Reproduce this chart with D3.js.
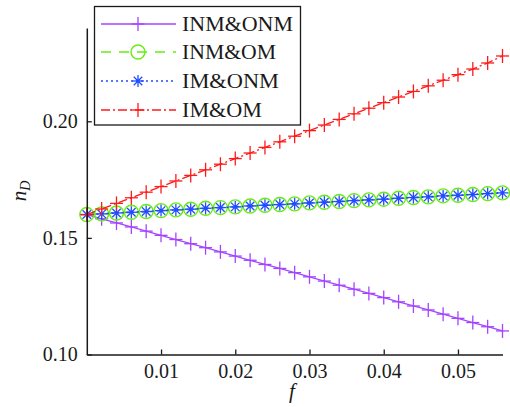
<!DOCTYPE html>
<html><head><meta charset="utf-8">
<script src="https://cdn.jsdelivr.net/npm/d3@7"></script>
<style>body{margin:0;background:#fff}</style>
</head><body>
<svg id="c" width="510" height="407"></svg>
<script>
const fValues = [0,0.002,0.004,0.006,0.008,0.010,0.012,0.014,0.016,0.018,0.020,0.022,0.024,0.026,0.028,0.030,0.032,0.034,0.036,0.038,0.040,0.042,0.044,0.046,0.048,0.050,0.052,0.054,0.056];
const inmOnm = [0.1600,0.1582,0.1564,0.1547,0.1529,0.1511,0.1493,0.1475,0.1458,0.1440,0.1422,0.1404,0.1386,0.1369,0.1351,0.1333,0.1315,0.1297,0.1280,0.1262,0.1244,0.1226,0.1208,0.1191,0.1173,0.1155,0.1137,0.1119,0.1101];
const inmOm = [0.1600,0.1603,0.1607,0.1610,0.1613,0.1617,0.1620,0.1623,0.1627,0.1630,0.1633,0.1637,0.1640,0.1643,0.1646,0.1650,0.1653,0.1656,0.1660,0.1663,0.1666,0.1670,0.1673,0.1676,0.1680,0.1683,0.1686,0.1690,0.1693];
const imOnm = [0.1600,0.1603,0.1607,0.1610,0.1613,0.1617,0.1620,0.1623,0.1627,0.1630,0.1633,0.1637,0.1640,0.1643,0.1646,0.1650,0.1653,0.1656,0.1660,0.1663,0.1666,0.1670,0.1673,0.1676,0.1680,0.1683,0.1686,0.1690,0.1693];
const imOm = [0.1600,0.1624,0.1648,0.1672,0.1696,0.1720,0.1744,0.1768,0.1792,0.1816,0.1840,0.1864,0.1888,0.1912,0.1936,0.1960,0.1984,0.2008,0.2032,0.2056,0.2080,0.2104,0.2128,0.2152,0.2176,0.2200,0.2224,0.2250,0.2280];
const seriesNames = ["INM&ONM","INM&OM","IM&ONM","IM&OM"];
const xTicks = [0.01,0.02,0.03,0.04,0.05];
const yTicks = [0.10,0.15,0.20];

const series = [
  {name: seriesNames[0], values: inmOnm, color: "#a444ff", dash: null, marker: "plus", lw: 1.3},
  {name: seriesNames[1], values: inmOm, color: "#66ee11", dash: "10,8", marker: "circle", lw: 1.3},
  {name: seriesNames[2], values: imOnm, color: "#1f4cff", dash: "2,3", marker: "star", lw: 1.6},
  {name: seriesNames[3], values: imOm, color: "#ff1a1a", dash: "9,3,2,3", marker: "plus", lw: 1.3}
];

const svg = d3.select("#c");
const x = d3.scaleLinear().domain([0, 0.056]).range([86.8, 502.5]);
const y = d3.scaleLinear().domain([0.10, 0.24]).range([354.5, 28]);
const FONT = "Liberation Serif";

function drawMarker(g, type, cx, cy, color) {
  if (type === "plus") {
    g.append("line").attr("x1", cx-6.5).attr("x2", cx+6.5).attr("y1", cy).attr("y2", cy).attr("stroke", color).attr("stroke-width", 1.3);
    g.append("line").attr("x1", cx).attr("x2", cx).attr("y1", cy-7).attr("y2", cy+7).attr("stroke", color).attr("stroke-width", 1.3);
  } else if (type === "circle") {
    g.append("circle").attr("cx", cx).attr("cy", cy).attr("r", 7).attr("fill", "none").attr("stroke", color).attr("stroke-width", 1.4);
  } else if (type === "star") {
    const r = 6;
    for (let k = 0; k < 4; k++) {
      const a = k * Math.PI / 4;
      g.append("line").attr("x1", cx - r*Math.cos(a)).attr("x2", cx + r*Math.cos(a))
        .attr("y1", cy - r*Math.sin(a)).attr("y2", cy + r*Math.sin(a))
        .attr("stroke", color).attr("stroke-width", 1.3);
    }
    g.append("circle").attr("cx", cx).attr("cy", cy).attr("r", 1.8).attr("fill", color);
  }
}

// series
const line = d3.line().x((d,i) => x(fValues[i])).y(d => y(d));
series.forEach(s => {
  const g = svg.append("g");
  g.append("path").attr("d", line(s.values)).attr("fill", "none")
    .attr("stroke", s.color).attr("stroke-width", s.lw)
    .attr("stroke-dasharray", s.dash);
  s.values.forEach((v, i) => drawMarker(g, s.marker, x(fValues[i]), y(v), s.color));
});

// axes
const xAxis = svg.append("g").attr("transform", "translate(0,354.5)")
  .call(d3.axisBottom(x).tickValues(xTicks).tickSizeInner(-5).tickSizeOuter(0).tickPadding(9).tickFormat(d3.format(".2f")));
const yAxis = svg.append("g").attr("transform", "translate(86.8,0)")
  .call(d3.axisLeft(y).tickValues(yTicks).tickSizeInner(-5).tickSizeOuter(0).tickPadding(9).tickFormat(d3.format(".2f")));
[xAxis, yAxis].forEach(a => {
  a.attr("font-family", FONT).attr("font-size", 20);
  a.selectAll("path.domain").attr("stroke", "#1a1a1a").attr("stroke-width", 1.5);
  a.selectAll(".tick line").attr("stroke", "#1a1a1a").attr("stroke-width", 1.3);
  a.selectAll(".tick text").attr("font-family", FONT).attr("font-size", 20).attr("fill", "#1a1a1a");
});
xAxis.selectAll(".tick text").attr("dy", "0.71em");

// axis labels
svg.append("text").attr("x", 292).attr("y", 398).attr("text-anchor", "middle")
  .attr("font-family", FONT).attr("font-style", "italic").attr("font-size", 21).attr("fill", "#1a1a1a").text("f");
const yl = svg.append("text").attr("transform", "translate(26,191) rotate(-90)").attr("text-anchor", "middle")
  .attr("font-family", FONT).attr("font-style", "italic").attr("fill", "#1a1a1a");
yl.append("tspan").attr("font-size", 21).text("n");
yl.append("tspan").attr("font-size", 14).attr("dy", 4).text("D");

// legend
const lg = svg.append("g");
lg.append("rect").attr("x", 94.5).attr("y", 6.5).attr("width", 206).attr("height", 118.5)
  .attr("fill", "#fff").attr("stroke", "#1a1a1a").attr("stroke-width", 1.3);
const rowsY = [24, 52, 81, 110];
const legendWidths = [111, 94, 97, 80];
series.forEach((s, i) => {
  const yy = rowsY[i];
  lg.append("line").attr("x1", 101).attr("x2", 176).attr("y1", yy).attr("y2", yy)
    .attr("stroke", s.color).attr("stroke-width", s.lw).attr("stroke-dasharray", s.dash);
  drawMarker(lg, s.marker, 138, yy, s.color);
  lg.append("text").attr("x", 182).attr("y", yy + 7).attr("font-family", FONT)
    .attr("font-size", 21).attr("fill", "#1a1a1a").text(s.name)
    .attr("textLength", legendWidths[i]).attr("lengthAdjust", "spacingAndGlyphs");
});
</script>
</body></html>
